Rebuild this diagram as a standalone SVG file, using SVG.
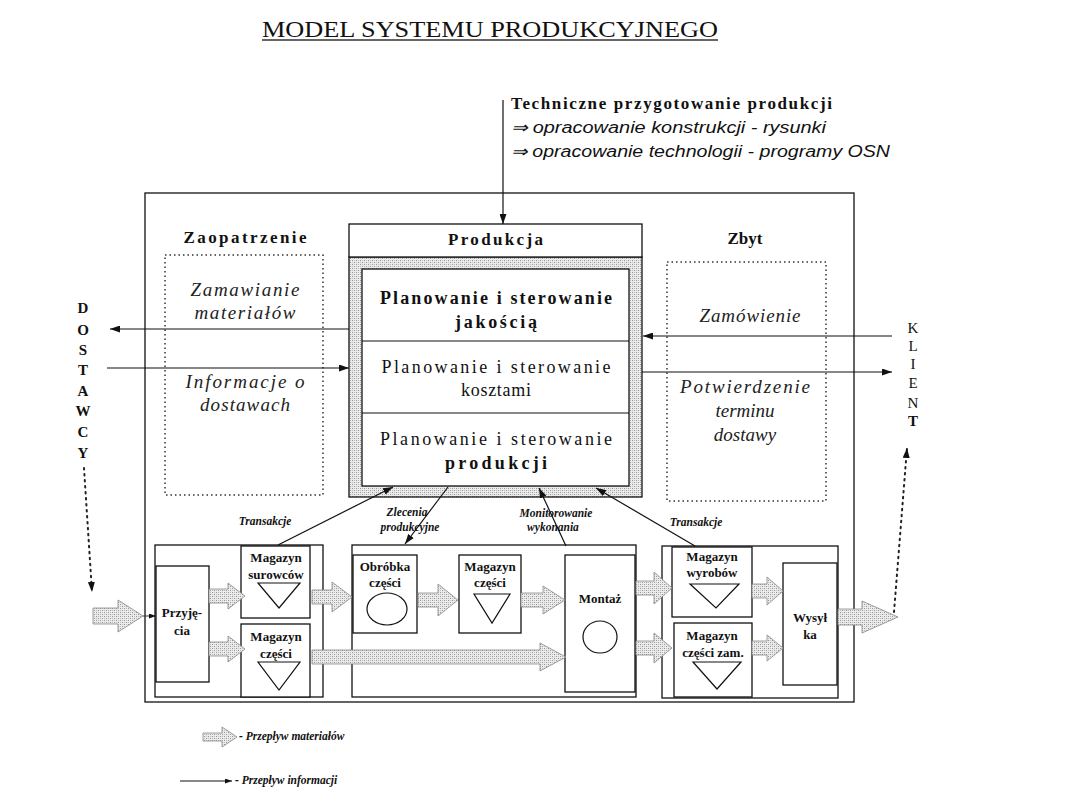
<svg xmlns="http://www.w3.org/2000/svg" width="1080" height="810" viewBox="0 0 1080 810">
<style>
.serif{font-family:"Liberation Serif","Times New Roman",serif;fill:#111}
.ital{font-family:"Liberation Serif","Times New Roman",serif;font-style:italic;fill:#222}
.sansi{font-family:"Liberation Sans",Arial,sans-serif;font-style:italic;fill:#111}
.box{fill:#fff;stroke:#111;stroke-width:1.3}
.thin{fill:none;stroke:#111;stroke-width:1.2}
.dotbox{fill:none;stroke:#333;stroke-width:1.5;stroke-dasharray:1.5 3}
.fat{fill:url(#hatch);stroke:#888;stroke-width:0.8}
.info{fill:none;stroke:#111;stroke-width:1.2;marker-end:url(#ah)}
.dots{fill:none;stroke:#222;stroke-width:2;stroke-dasharray:1.5 4.5;stroke-linecap:round}
.small{font-family:"Liberation Serif","Times New Roman",serif;font-weight:bold;font-size:13px;fill:#111}
.lab{font-family:"Liberation Serif","Times New Roman",serif;font-weight:bold;font-style:italic;font-size:11.5px;fill:#111}
</style>
<defs>
<pattern id="hatch" width="4" height="4" patternUnits="userSpaceOnUse">
<rect width="4" height="4" fill="#ebebeb"/>
<rect x="0" y="0" width="1" height="1" fill="#959595"/>
<rect x="2" y="2" width="1" height="1" fill="#959595"/>
<rect x="2" y="0" width="1" height="1" fill="#c0c0c0"/>
<rect x="0" y="2" width="1" height="1" fill="#c0c0c0"/>
</pattern>
<marker id="ah" viewBox="0 0 10 7" refX="10" refY="3.5" markerWidth="10" markerHeight="7" markerUnits="userSpaceOnUse" orient="auto">
<path d="M0,0 L10,3.5 L0,7 z" fill="#111"/>
</marker>
<marker id="ahs" viewBox="0 0 10 7" refX="10" refY="3.5" markerWidth="7" markerHeight="5" markerUnits="userSpaceOnUse" orient="auto">
<path d="M0,0 L10,3.5 L0,7 z" fill="#111"/>
</marker>
</defs>
<rect width="1080" height="810" fill="#fff"/>

<g id="title">
<text class="serif" x="262" y="37" font-size="24" textLength="456" lengthAdjust="spacingAndGlyphs">MODEL SYSTEMU PRODUKCYJNEGO</text>
<line x1="262" y1="40" x2="718" y2="40" stroke="#333" stroke-width="1.3"/>
</g>

<g id="techniczne">
<text class="serif" x="511" y="109" font-size="17" font-weight="bold" textLength="321" lengthAdjust="spacing">Techniczne przygotowanie produkcji</text>
<text class="sansi" x="511" y="133" font-size="16" textLength="315" lengthAdjust="spacingAndGlyphs">⇒ opracowanie konstrukcji - rysunki</text>
<text class="sansi" x="511" y="157" font-size="16" textLength="379" lengthAdjust="spacingAndGlyphs">⇒ opracowanie technologii - programy OSN</text>
</g>

<g id="outer-system">
<rect x="145" y="193" width="709" height="509" fill="none" stroke="#111" stroke-width="1.3"/>
</g>

<g id="zaopatrzenie">
<text class="serif" x="245" y="243" font-size="17" font-weight="bold" text-anchor="middle" textLength="123" lengthAdjust="spacing">Zaopatrzenie</text>
<rect class="dotbox" x="165" y="255" width="158" height="240"/>
<text class="ital" x="245" y="296" font-size="19" text-anchor="middle" textLength="109" lengthAdjust="spacing">Zamawianie</text>
<text class="ital" x="245" y="319" font-size="19" text-anchor="middle" textLength="101" lengthAdjust="spacing">materiałów</text>
<text class="ital" x="245" y="388" font-size="19" text-anchor="middle" textLength="119" lengthAdjust="spacing">Informacje o</text>
<text class="ital" x="245" y="411" font-size="19" text-anchor="middle" textLength="90" lengthAdjust="spacing">dostawach</text>
</g>

<g id="zbyt">
<text class="serif" x="745" y="244" font-size="17" font-weight="bold" text-anchor="middle">Zbyt</text>
<rect class="dotbox" x="667" y="262" width="159" height="239"/>
<text class="ital" x="750" y="322" font-size="19" text-anchor="middle" textLength="101" lengthAdjust="spacing">Zamówienie</text>
<text class="ital" x="745" y="393" font-size="19" text-anchor="middle" textLength="130" lengthAdjust="spacing">Potwierdzenie</text>
<text class="ital" x="745" y="417" font-size="19" text-anchor="middle">terminu</text>
<text class="ital" x="745" y="441" font-size="19" text-anchor="middle">dostawy</text>
</g>

<g id="produkcja">
<rect x="349" y="257" width="293" height="240" fill="url(#hatch)" stroke="#111" stroke-width="1.3"/>
<rect class="box" x="349" y="224" width="293" height="33"/>
<text class="serif" x="495.5" y="245" font-size="17" font-weight="bold" text-anchor="middle" textLength="95" lengthAdjust="spacing">Produkcja</text>
<rect class="box" x="362" y="269" width="267" height="217"/>
<line x1="362" y1="341" x2="629" y2="341" stroke="#111" stroke-width="1.2"/>
<line x1="362" y1="413" x2="629" y2="413" stroke="#111" stroke-width="1.2"/>
<text class="serif" x="496" y="304" font-size="18" font-weight="bold" text-anchor="middle" textLength="232" lengthAdjust="spacing">Planowanie i sterowanie</text>
<text class="serif" x="496" y="328" font-size="18" font-weight="bold" text-anchor="middle" textLength="82" lengthAdjust="spacing">jakością</text>
<text class="serif" x="496" y="373" font-size="18" text-anchor="middle" textLength="229" lengthAdjust="spacing">Planowanie i sterowanie</text>
<text class="serif" x="496" y="396" font-size="18" text-anchor="middle" textLength="70" lengthAdjust="spacing">kosztami</text>
<text class="serif" x="496" y="445" font-size="18" text-anchor="middle" textLength="232" lengthAdjust="spacing">Planowanie i sterowanie</text>
<text class="serif" x="496" y="469" font-size="18" font-weight="bold" text-anchor="middle" textLength="102" lengthAdjust="spacing">produkcji</text>
</g>

<g id="dostawcy">
<text class="serif" font-size="15" font-weight="bold" text-anchor="middle">
<tspan x="83" y="313">D</tspan><tspan x="83" y="335">O</tspan><tspan x="83" y="355">S</tspan><tspan x="83" y="375">T</tspan><tspan x="83" y="396">A</tspan><tspan x="83" y="416">W</tspan><tspan x="83" y="437">C</tspan><tspan x="83" y="458">Y</tspan>
</text>
</g>

<g id="klient">
<text class="serif" font-size="15" text-anchor="middle">
<tspan x="913" y="333">K</tspan><tspan x="913" y="351">L</tspan><tspan x="913" y="369">I</tspan><tspan x="913" y="388">E</tspan><tspan x="913" y="408">N</tspan><tspan x="913" y="426" font-weight="bold">T</tspan>
</text>
</g>

<g id="sekcja-zaopatrzenie">
<rect class="box" x="155" y="545" width="168" height="152"/>
<rect class="box" x="156" y="566" width="53" height="116"/>
<text class="small" x="182" y="617" text-anchor="middle">Przyję-</text>
<text class="small" x="182" y="635" text-anchor="middle" font-weight="normal">cia</text>
<rect class="box" x="241" y="546" width="69" height="72"/>
<text class="small" x="276" y="562" text-anchor="middle">Magazyn</text>
<text class="small" x="276" y="579" text-anchor="middle">surowców</text>
<path class="thin" d="M258,583 L300,583 L279,608 Z"/>
<rect class="box" x="241" y="624" width="69" height="73"/>
<text class="small" x="276" y="641" text-anchor="middle">Magazyn</text>
<text class="small" x="276" y="658" text-anchor="middle">części</text>
<path class="thin" d="M258,662 L300,662 L279,690 Z"/>
</g>

<g id="sekcja-produkcja">
<rect class="box" x="352" y="545" width="284" height="152"/>
<rect class="box" x="353" y="555" width="64" height="78"/>
<text class="small" x="385" y="571" text-anchor="middle">Obróbka</text>
<text class="small" x="385" y="587" text-anchor="middle">części</text>
<ellipse class="thin" cx="387" cy="609" rx="20" ry="16"/>
<rect class="box" x="459" y="555" width="62" height="78"/>
<text class="small" x="490" y="571" text-anchor="middle" font-weight="normal">Magazyn</text>
<text class="small" x="490" y="587" text-anchor="middle">części</text>
<path class="thin" d="M474,594 L510,594 L492,623 Z"/>
<rect class="box" x="565" y="555" width="70" height="137"/>
<text class="small" x="600" y="603" text-anchor="middle" font-weight="normal">Montaż</text>
<ellipse class="thin" cx="600" cy="637" rx="17" ry="16"/>
</g>

<g id="sekcja-zbyt">
<rect class="box" x="662" y="546" width="176" height="152"/>
<rect class="box" x="672" y="547" width="80" height="70"/>
<text class="small" x="712" y="561" text-anchor="middle">Magazyn</text>
<text class="small" x="712" y="577" text-anchor="middle" font-weight="normal">wyrobów</text>
<path class="thin" d="M690,584 L739,584 L716,608 Z"/>
<rect class="box" x="674" y="623" width="78" height="74"/>
<text class="small" x="712" y="640" text-anchor="middle">Magazyn</text>
<text class="small" x="713" y="657" text-anchor="middle">części zam.</text>
<path class="thin" d="M693,662 L741,662 L717,689 Z"/>
<rect class="box" x="783" y="563" width="54" height="122"/>
<text class="small" x="810" y="622" text-anchor="middle">Wysył</text>
<text class="small" x="810" y="639" text-anchor="middle">ka</text>
</g>

<g id="connectors">
<line class="info" x1="503" y1="100" x2="503" y2="224"/>
<line class="info" x1="349" y1="329" x2="110" y2="329"/>
<line class="info" x1="107" y1="368" x2="349" y2="368"/>
<line class="info" x1="892" y1="336" x2="643" y2="336"/>
<line class="info" x1="642" y1="372" x2="892" y2="372"/>
<line class="info" x1="278" y1="545" x2="393" y2="487"/>
<line class="info" x1="448" y1="487" x2="405" y2="544"/>
<line class="info" x1="566" y1="546" x2="539" y2="488"/>
<line class="info" x1="695" y1="546" x2="596" y2="488"/>
<line class="dots" x1="84" y1="468" x2="92" y2="592" marker-end="url(#ah)"/>
<line class="dots" x1="894" y1="612" x2="907" y2="448" marker-end="url(#ah)"/>
<line x1="143" y1="616" x2="156" y2="616" stroke="#333" stroke-width="1" marker-end="url(#ahs)"/>
<polygon class="fat" points="93,608 118,608 118,600 143,616 118,632 118,624 93,624"/>
<polygon class="fat" points="209,589 228,589 228,583 245,596 228,609 228,603 209,603"/>
<polygon class="fat" points="209,642 228,642 228,636 245,649 228,662 228,656 209,656"/>
<polygon class="fat" points="312,590 332,590 332,582 352,597 332,612 332,604 312,604"/>
<polygon class="fat" points="312,650 540,650 540,643 566,657 540,671 540,664 312,664"/>
<polygon class="fat" points="418,593 438,593 438,584 458,600 438,616 438,607 418,607"/>
<polygon class="fat" points="521,593 543,593 543,586 565,600 543,614 543,607 521,607"/>
<polygon class="fat" points="636,581 654,581 654,572 672,588 654,604 654,595 636,595"/>
<polygon class="fat" points="636,641 654,641 654,633 672,648 654,663 654,655 636,655"/>
<polygon class="fat" points="752,584 767,584 767,577 783,591 767,605 767,598 752,598"/>
<polygon class="fat" points="752,641 767,641 767,635 783,648 767,661 767,655 752,655"/>
<polygon class="fat" points="838,609 862,609 862,601 898,617 862,633 862,625 838,625"/>
</g>

<g id="connector-labels">
<text class="lab" x="265" y="525" text-anchor="middle">Transakcje</text>
<text class="lab" x="407" y="516" text-anchor="middle">Zlecenia</text>
<text class="lab" x="410" y="531" text-anchor="middle">produkcyjne</text>
<text class="lab" x="556" y="517" text-anchor="middle">Monitorowanie</text>
<text class="lab" x="553" y="531" text-anchor="middle">wykonania</text>
<text class="lab" x="696" y="526" text-anchor="middle">Transakcje</text>
</g>

<g id="legenda">
<polygon class="fat" points="203,733 222,733 222,727 237,737 222,747 222,741 203,741"/>
<text class="lab" x="239" y="740" font-size="11">- Przepływ materiałów</text>
<line x1="180" y1="781" x2="232" y2="781" stroke="#111" stroke-width="1" marker-end="url(#ahs)"/>
<text class="lab" x="235" y="784" font-size="11">- Przepływ informacji</text>
</g>
</svg>
